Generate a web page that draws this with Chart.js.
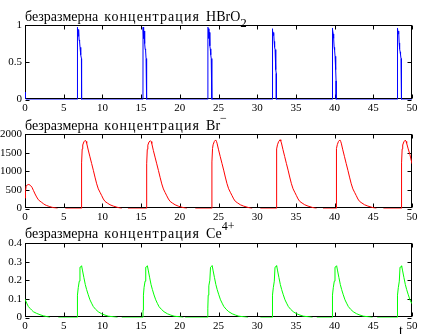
<!DOCTYPE html>
<html>
<head>
<meta charset="utf-8">
<script src="https://cdn.jsdelivr.net/npm/chart.js@4.4.1/dist/chart.umd.min.js"></script>
<style>
  body { margin: 0; width: 430px; height: 334px; overflow: hidden; background: #fff; position: relative; }
  canvas { position: absolute; left: 0; }
  .ttl { position: absolute; left: 25px; font: 14px "Liberation Serif"; line-height: 14px; white-space: nowrap; color: #000; word-spacing: 2.5px; }
  .ttl .w2 { letter-spacing: 1.1px; }
  .ttl sub { font-size: 13px; vertical-align: -5.5px; line-height: 0; }
  .ttl sup { font-size: 12px; vertical-align: 8px; line-height: 0; }
  #tlab { position: absolute; left: 399px; top: 323px; font: 14px "Liberation Serif"; color: #000; }
</style>
</head>
<body>
<canvas id="c1" width="430" height="112" style="top:0"></canvas>
<canvas id="c2" width="430" height="110" style="top:112px"></canvas>
<canvas id="c3" width="430" height="112" style="top:222px"></canvas>
<div class="ttl" style="top:10px">безразмерна <span class="w2">концентрация</span> HBrO<sub>2</sub></div>
<div class="ttl" style="top:118px">безразмерна <span class="w2">концентрация</span> Br<sup>−</sup></div>
<div class="ttl" style="top:226px">безразмерна <span class="w2">концентрация</span> Ce<sup>4+</sup></div>
<div id="tlab">t</div>
<script>
// [t, value] pairs; null = line not visible (hidden by the frame)
const hbro2 = [
  [0,0.1],[0.05,0.03],[0.15,0],
  [6.73,0],[6.75,0.97],[6.81,0.96],[6.87,0.85],[6.93,0.94],[6.99,0.80],[7.05,0.78],[7.11,0.70],[7.17,0.62],[7.23,0.60],[7.29,0.55],[7.31,0],
  [15.24,0],[15.25,0.97],[15.30,0.95],[15.35,0.82],[15.40,0.92],[15.46,0.75],[15.52,0.68],[15.58,0.66],[15.64,0.55],[15.70,0.42],[15.72,0],
  [23.60,0],[23.62,0.41],[23.64,0.97],[23.70,0.95],[23.76,0.82],[23.82,0.90],[23.88,0.72],[23.94,0.68],[24.00,0.60],[24.06,0.55],[24.12,0.45],[24.15,0],
  [31.94,0],[31.95,0.95],[32.01,0.93],[32.07,0.86],[32.13,0.90],[32.19,0.78],[32.25,0.70],[32.31,0.67],[32.37,0.60],[32.42,0.40],[32.46,0.35],[32.47,0],
  [39.69,0],[39.70,0.96],[39.76,0.94],[39.82,0.88],[39.88,0.82],[39.94,0.70],[40.00,0.66],[40.06,0.58],[40.12,0.55],[40.16,0.40],[40.19,0.25],[40.20,0],
  [48.09,0],[48.10,0.96],[48.16,0.95],[48.22,0.88],[48.28,0.92],[48.34,0.76],[48.40,0.68],[48.46,0.64],[48.52,0.60],[48.58,0.55],[48.63,0.52],[48.65,0],
  [50,0]
];

const brMinus = [
  [0,280],[0.06,450],[0.15,600],[0.3,635],[0.5,645],[0.7,620],[0.9,570],[1.1,480],[1.3,390],[1.5,310],[1.72,236],[1.95,195],[2.15,165],[2.37,130],[2.58,100],[2.8,80],[3.0,65],[3.2,50],[3.4,38],[3.7,22],[4.0,10],[4.2,0],[4.7,null],[5.2,0],
  [7.30,0],[7.31,1225],[7.39,1600],[7.46,1705],[7.61,1790],[7.79,1830],[7.89,1800],[7.97,1750],[8.17,1570],[8.39,1387],[8.61,1207],[8.83,1025],[9.04,843],[9.26,663],[9.47,527],[9.69,435],[9.91,345],[10.12,255],[10.34,190],[10.64,146],[10.98,100],[11.41,65],[11.84,38],[12.27,10],[12.51,0],[12.9,null],[13.3,0],
  [15.71,0],[15.72,1200],[15.80,1590],[15.87,1700],[16.02,1785],[16.20,1820],[16.30,1795],[16.38,1745],[16.58,1560],[16.80,1380],[17.02,1200],[17.24,1020],[17.45,840],[17.67,660],[17.88,525],[18.10,430],[18.32,340],[18.53,255],[18.75,190],[19.05,145],[19.39,100],[19.82,62],[20.25,36],[20.68,10],[20.92,0],[21.5,null],[22.0,0],
  [24.14,0],[24.15,1250],[24.23,1610],[24.30,1710],[24.45,1795],[24.63,1840],[24.73,1805],[24.81,1755],[25.01,1575],[25.23,1390],[25.45,1210],[25.67,1030],[25.88,845],[26.10,665],[26.31,530],[26.53,435],[26.75,345],[26.96,258],[27.18,192],[27.48,148],[27.82,100],[28.25,64],[28.68,37],[29.11,10],[29.35,0],[29.9,null],[30.4,0],
  [32.46,0],[32.47,1230],[32.55,1600],[32.62,1710],[32.77,1795],[32.95,1845],[33.05,1810],[33.13,1760],[33.33,1580],[33.55,1395],[33.77,1210],[33.99,1030],[34.20,845],[34.42,665],[34.63,530],[34.85,437],[35.07,345],[35.28,256],[35.50,190],[35.80,146],[36.14,100],[36.57,64],[37.00,37],[37.43,10],[37.67,0],[38.1,null],[38.5,0],
  [40.19,0],[40.20,1240],[40.28,1610],[40.35,1715],[40.50,1800],[40.68,1840],[40.78,1805],[40.86,1755],[41.06,1575],[41.28,1390],[41.50,1205],[41.72,1025],[41.93,843],[42.15,663],[42.36,527],[42.58,435],[42.80,345],[43.01,255],[43.23,190],[43.53,146],[43.87,100],[44.30,65],[44.73,38],[45.16,10],[45.40,0],[45.9,null],[46.3,0],
  [48.64,0],[48.65,1225],[48.73,1600],[48.80,1705],[48.95,1790],[49.13,1835],[49.23,1800],[49.31,1750],[49.51,1600],[49.73,1450],[49.95,1250],[50,1200]
];

const ce4 = [
  [0,0.099],[0.22,0.077],[0.43,0.059],[0.65,0.049],[0.86,0.040],[1.08,0.031],[1.51,0.022],[1.94,0.015],[2.37,0.009],[2.80,0.005],[3.23,0],[3.8,null],[4.3,0],
  [6.74,0],[6.75,0.04],[6.80,0.12],[6.88,0.16],[7.01,0.195],[7.10,0.27],[7.23,0.272],[7.31,0.278],[7.44,0.25],[7.61,0.214],[7.79,0.177],[7.96,0.15],[8.17,0.122],[8.39,0.095],[8.60,0.077],[8.82,0.059],[9.12,0.044],[9.46,0.031],[9.90,0.02],[10.33,0.013],[10.76,0.007],[11.40,0.004],[11.95,0],[12.2,null],[12.5,0],
  [15.24,0],[15.25,0.04],[15.30,0.12],[15.38,0.16],[15.51,0.195],[15.60,0.27],[15.73,0.273],[15.81,0.278],[15.94,0.25],[16.11,0.213],[16.29,0.176],[16.46,0.15],[16.67,0.121],[16.89,0.095],[17.10,0.076],[17.32,0.058],[17.62,0.044],[17.96,0.031],[18.40,0.02],[18.83,0.013],[19.26,0.007],[19.90,0.004],[20.45,0],[20.6,null],[20.7,0],
  [23.61,0],[23.62,0.05],[23.67,0.12],[23.75,0.17],[23.88,0.2],[23.97,0.27],[24.10,0.274],[24.18,0.279],[24.31,0.25],[24.48,0.214],[24.66,0.177],[24.83,0.15],[25.04,0.122],[25.26,0.095],[25.47,0.077],[25.69,0.059],[25.99,0.044],[26.33,0.031],[26.77,0.02],[27.20,0.013],[27.63,0.007],[28.27,0.004],[28.82,0],[29.6,null],[30.4,0],
  [31.94,0],[31.95,0.04],[32.00,0.12],[32.08,0.16],[32.21,0.195],[32.30,0.27],[32.43,0.274],[32.51,0.279],[32.64,0.25],[32.81,0.214],[32.99,0.177],[33.16,0.15],[33.37,0.122],[33.59,0.095],[33.80,0.077],[34.02,0.059],[34.32,0.044],[34.66,0.031],[35.10,0.02],[35.53,0.013],[35.96,0.007],[36.60,0.004],[37.15,0],[37.4,null],[37.7,0],
  [39.69,0],[39.70,0.04],[39.75,0.12],[39.83,0.16],[39.96,0.195],[40.05,0.27],[40.18,0.273],[40.26,0.278],[40.39,0.25],[40.56,0.214],[40.74,0.177],[40.91,0.15],[41.12,0.122],[41.34,0.095],[41.55,0.077],[41.77,0.059],[42.07,0.044],[42.41,0.031],[42.85,0.02],[43.28,0.013],[43.71,0.007],[44.35,0.004],[44.90,0],[45.2,null],[45.5,0],
  [48.09,0],[48.10,0.04],[48.15,0.12],[48.23,0.16],[48.36,0.195],[48.45,0.27],[48.58,0.272],[48.66,0.278],[48.79,0.25],[48.96,0.214],[49.14,0.177],[49.31,0.15],[49.52,0.122],[49.74,0.095],[49.95,0.077],[50,0.074]
];

const tMin = 0, tMax = 50, tStep = 5;

// frame box with short inward ticks on all four sides (drawn under the curves)
const boxPlugin = {
  id: 'box',
  beforeDatasetsDraw(chart) {
    const { ctx, chartArea: a, scales } = chart;
    const l = Math.round(a.left) + 0.5, r = Math.round(a.right) - 0.5;
    const t = Math.round(a.top) + 0.5, b = Math.floor(a.bottom) - 0.5;
    ctx.save();
    ctx.strokeStyle = '#000';
    ctx.lineWidth = 1;
    ctx.strokeRect(l, t, r - l, b - t);
    ctx.beginPath();
    scales.x.ticks.forEach((tk) => {
      const px = Math.round(scales.x.getPixelForValue(tk.value)) + 0.5;
      ctx.moveTo(px, b); ctx.lineTo(px, b - 4);
      ctx.moveTo(px, t); ctx.lineTo(px, t + 4);
    });
    scales.y.ticks.forEach((tk) => {
      const py = Math.round(scales.y.getPixelForValue(tk.value)) + 0.5;
      ctx.moveTo(l, py); ctx.lineTo(l + 4, py);
      ctx.moveTo(r, py); ctx.lineTo(r - 4, py);
    });
    ctx.stroke();
    ctx.restore();
  }
};

const tickFont = { family: 'Liberation Serif', size: 11 };

function makePanel(id, pairs, color, yMax, yStep, padTop, xHeight) {
  const ctx = document.getElementById(id);
  return new Chart(ctx, {
    type: 'line',
    data: {
      datasets: [{
        data: pairs.map((p) => ({ x: p[0], y: p[1] })),
        borderColor: color,
        borderWidth: 1,
        pointRadius: 0,
        tension: 0,
        spanGaps: false,
      }],
    },
    options: {
      responsive: false,
      animation: false,
      layout: { padding: { top: padTop, right: 18, left: 0, bottom: 0 } },
      plugins: { legend: { display: false }, tooltip: { enabled: false } },
      scales: {
        x: {
          type: 'linear', min: tMin, max: tMax,
          grid: { display: false, drawTicks: false },
          border: { display: false },
          ticks: { stepSize: tStep, autoSkip: false, maxRotation: 0, padding: 2, color: '#000', font: tickFont,
                   callback: (v) => String(v) },
          afterFit: (s) => { s.height = xHeight; },
        },
        y: {
          min: 0, max: yMax,
          grid: { display: false, drawTicks: false },
          border: { display: false },
          ticks: { stepSize: yStep, padding: 3, color: '#000', font: tickFont,
                   callback: (v) => String(v) },
          afterFit: (s) => { s.width = 25; },
        },
      },
    },
    plugins: [boxPlugin],
  });
}

makePanel('c1', hbro2, '#0000ff', 1, 0.5, 25, 12.5);
makePanel('c2', brMinus, '#ff0000', 2000, 500, 22, 13.5);
makePanel('c3', ce4, '#00ff00', 0.4, 0.1, 21, 16.5);
</script>
</body>
</html>
